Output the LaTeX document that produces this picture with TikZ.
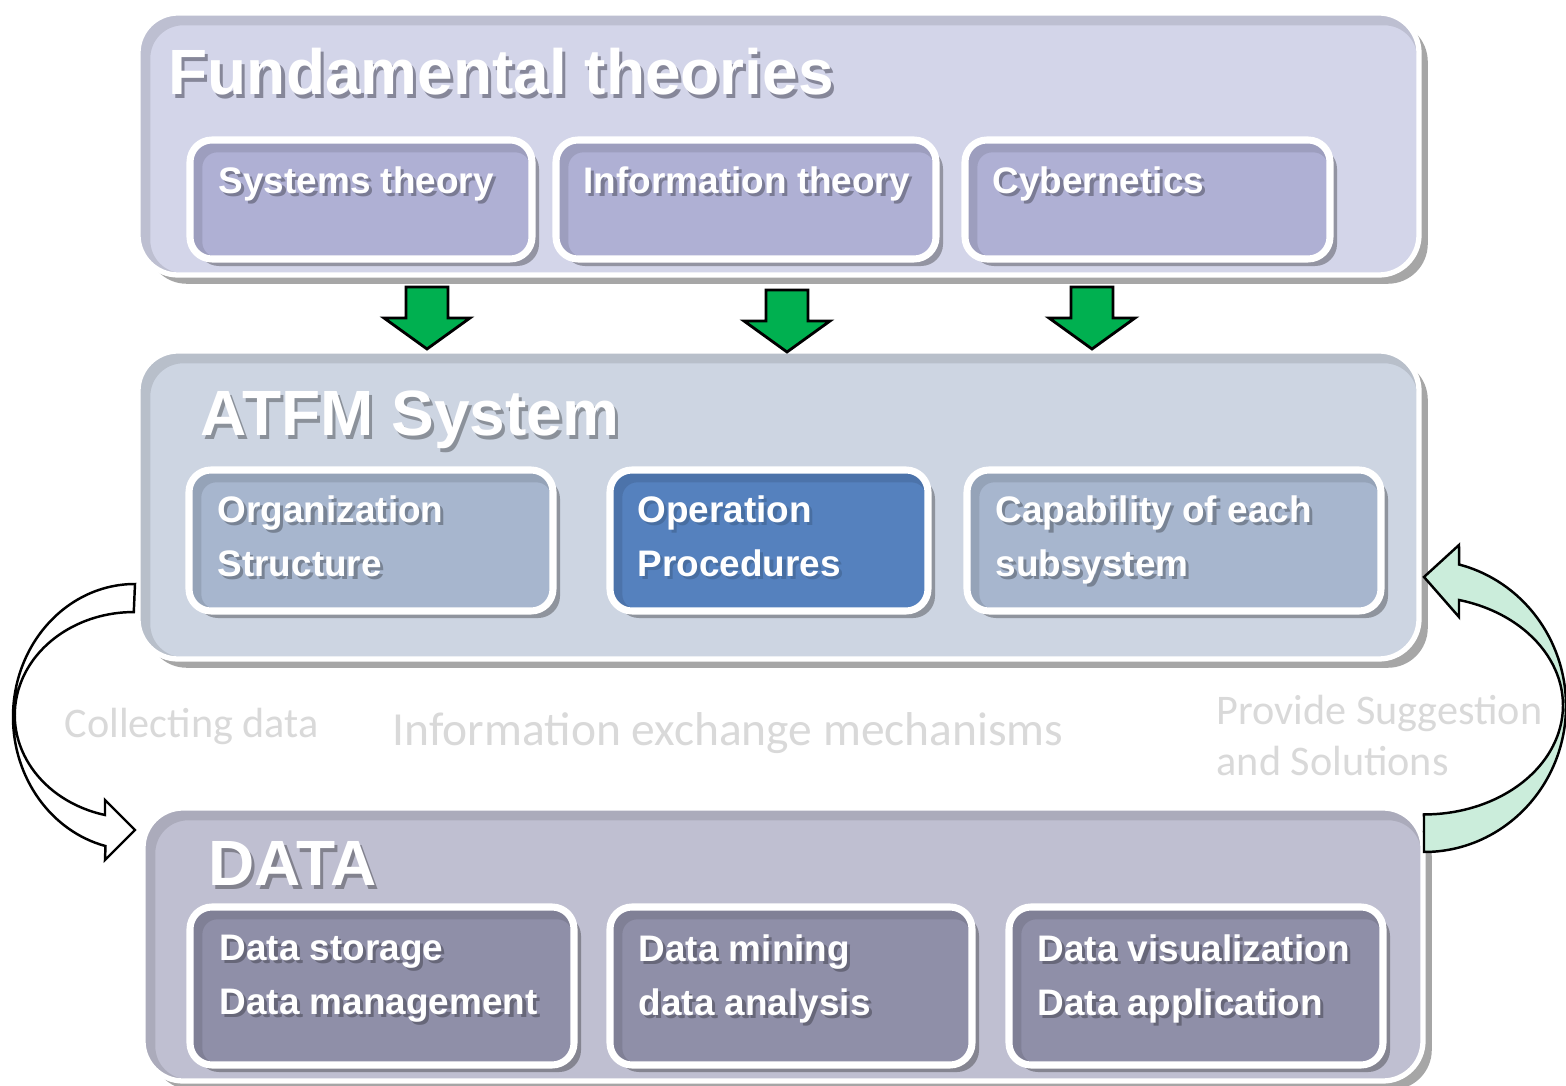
\documentclass[tikz,border=0pt]{standalone}
\usepackage{fontspec}
\setmainfont{Liberation Sans}
\newfontfamily\calib{Carlito}
\usetikzlibrary{shadows,fit,calc}
\definecolor{ftfill}{HTML}{D3D5E9}
\definecolor{ftin}{HTML}{AFB0D4}
\definecolor{atfill}{HTML}{CDD5E2}
\definecolor{atin}{HTML}{A7B6CE}
\definecolor{opfill}{HTML}{5581BE}
\definecolor{dafill}{HTML}{BFBFD1}
\definecolor{dain}{HTML}{8F8FA8}
\definecolor{arrgreen}{HTML}{00B050}
\definecolor{lgreen}{HTML}{CBEDDB}
\definecolor{labgray}{HTML}{D9D9D9}
\colorlet{shdc}{gray}
\newcommand\sh[1]{\makebox[0pt][l]{\hspace{0.9pt}\raisebox{-0.9pt}{\textcolor{shdc}{#1}}}#1}
\tikzset{
 innershade/.style={path picture={
   \draw[line width=4pt, draw=black, opacity=0.10, rounded corners=#1]
     ([shift={(1.5pt,-1.5pt)}]path picture bounding box.south west) rectangle
     ([shift={(1.5pt,-1.5pt)}]path picture bounding box.north east);}},
 outerbox/.style={draw=white, line width=1.5pt, rounded corners=0.4cm, inner sep=0pt,
   innershade=0.4cm,
   drop shadow={shadow xshift=2.5pt, shadow yshift=-2.5pt, opacity=0.35, fill=black}},
 innerbox/.style={draw=white, line width=2pt, rounded corners=0.22cm, inner sep=0pt,
   innershade=0.22cm,
   drop shadow={shadow xshift=2pt, shadow yshift=-2pt, opacity=0.3, fill=black}},
 shd/.style={execute at begin node={\colorlet{shdc}{#1}}},
 titletxt/.style={anchor=base west, inner sep=0pt, text=white,
   font=\fontsize{18.2pt}{22pt}\selectfont\bfseries},
 itxt/.style={anchor=north west, inner sep=0pt, text=white, align=left,
   font=\fontsize{10.5pt}{15.4pt}\selectfont\bfseries},
 glabel/.style={inner sep=0pt, text=labgray, align=left,
   font=\calib\fontsize{12pt}{14.5pt}\selectfont},
 garrow/.style={draw=black, line width=0.8pt, fill=arrgreen, line join=miter},
 curv/.style={draw=black, line width=0.7pt, line join=miter},
}
\begin{document}
\begin{tikzpicture}[x=0.01cm,y=0.01cm]
\fill[white] (0,0) rectangle (1566,-1086);
\useasboundingbox (0,0) rectangle (1566,-1086);

% --- Fundamental theories
\node[outerbox, fill=ftfill, fit={(138,-13) (1419,-275)}] (ft) {};
\node[innerbox, fill=ftin, fit={(190,-140) (532,-259)}] (st) {};
\node[innerbox, fill=ftin, fit={(556,-140) (936,-259)}] (it) {};
\node[innerbox, fill=ftin, fit={(965,-140) (1330,-259)}] (cy) {};
\node[titletxt, shd=ftfill!55!black!70!ftin] (tft) at (168,-95) {\sh{Fundamental theories}};
\node[itxt, shd=ftin!70!black] (tst) at (218,-166) {\sh{Systems theory}};
\node[itxt, shd=ftin!70!black] (tit) at (583,-166) {\sh{Information theory}};
\node[itxt, shd=ftin!70!black] (tcy) at (992,-166) {\sh{Cybernetics}};

% --- ATFM System
\node[outerbox, fill=atfill, fit={(138,-351) (1419,-659)}] (at) {};
\node[innerbox, fill=atin, fit={(189,-470) (553,-611)}] (os) {};
\node[innerbox, fill=opfill, fit={(610,-470) (928,-611)}] (op) {};
\node[innerbox, fill=atin, fit={(967,-470) (1381,-611)}] (ca) {};
\node[titletxt, shd=atfill!68!black] (tat) at (200,-436) {\sh{ATFM System}};
\node[itxt, shd=atin!72!black] (tos) at (217,-495) {\sh{Organization}\\\sh{Structure}};
\node[itxt, shd=opfill!85!black] (top) at (637,-495) {\sh{Operation}\\\sh{Procedures}};
\node[itxt, shd=atin!72!black] (tca) at (995,-495) {\sh{Capability of each}\\\sh{subsystem}};

% --- DATA
\node[outerbox, fill=dafill, fit={(143,-808) (1423,-1081)}] (da) {};
\node[innerbox, fill=dain, fit={(190,-907) (574,-1065)}] (ds) {};
\node[innerbox, fill=dain, fit={(610,-907) (972,-1065)}] (dm) {};
\node[innerbox, fill=dain, fit={(1009,-907) (1383,-1065)}] (dv) {};
\node[titletxt, shd=dafill!68!black] (tda) at (208,-886) {\sh{DATA}};
\node[itxt, shd=dain!72!black] (tds) at (219,-934) {\sh{Data storage}\\\sh{Data management}};
\node[itxt, shd=dain!72!black] (tdm) at (638,-934) {\sh{Data mining}\\\sh{data analysis}};
\node[itxt, shd=dain!72!black] (tdv) at (1037,-934) {\sh{Data visualization}\\\sh{Data application}};

% --- green down arrows
\foreach \n/\x/\y in {g1/427/-287, g2/787/-290, g3/1092/-287}{
  \coordinate (\n) at (\x,\y);
  \draw[garrow] (\n) ++(-21,0) -- ++(42,0) -- ++(0,-31) -- ++(22,0) -- ++(-43,-31)
     -- ++(-43,31) -- ++(22,0) -- cycle;
}

% --- gray labels
\node[glabel, anchor=base west] (lcol) at (64,-738) {Collecting data};
\node[glabel, anchor=base west, font=\calib\fontsize{13.5pt}{16pt}\selectfont] (linf) at (392,-746) {Information exchange mechanisms};
\node[glabel, anchor=north west] (lpro) at (1216,-695) {Provide Suggestion\\and Solutions};

% --- left curved arrow (ATFM -> DATA)
\coordinate (ltail) at (135,-584);
\draw[curv, fill=white] (ltail) arc[start angle=90,end angle=256,x radius=122,y radius=133]
   -- (105,-860) -- (135,-830) -- (105,-800) -- (105,-815)
   arc[start angle=256,end angle=90,x radius=119,y radius=103] -- cycle;

% --- right curved arrow (DATA -> ATFM)
\coordinate (rtail) at (1424,-852);
\draw[curv, fill=lgreen] (rtail) arc[start angle=-90,end angle=75.7,x radius=142,y radius=146]
   -- (1459,-545) -- (1424,-577) -- (1459,-617) -- (1459,-600)
   arc[start angle=75.4,end angle=-90,x radius=139,y radius=109] -- cycle;
\end{tikzpicture}
\end{document}
